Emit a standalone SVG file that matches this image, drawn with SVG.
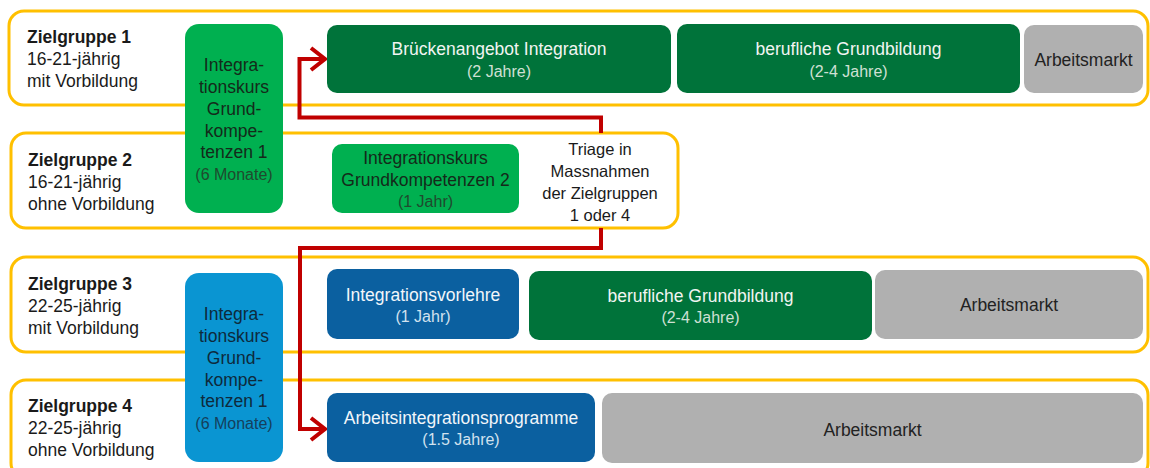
<svg xmlns="http://www.w3.org/2000/svg" width="1150" height="468" viewBox="0 0 1150 468">
<style>
text{font-family:"Liberation Sans",Arial,sans-serif;font-size:17.5px;}
.band{fill:#fff;stroke:#ffc000;stroke-width:3;}
.lbl{fill:#1a1a1a;}
.b{font-weight:bold;}
.mid{text-anchor:middle;}
.lg{fill:#00b050;}
.dg{fill:#00733a;}
.lb{fill:#0a95d2;}
.db{fill:#0b60a0;}
.gr{fill:#b0b0b0;}
.tw{fill:#f2f5f2;}
.tws{fill:#cfe0d4;font-size:16px;}
.tbw{fill:#f2f6fa;}
.tbws{fill:#d2e2ef;font-size:16px;}
.td{fill:#142a1a;}
.tds{fill:#1f4a2e;font-size:16px;}
.tdb{fill:#0e2a3c;}
.tdbs{fill:#15405c;font-size:16px;}
.tg{fill:#222;}
.tri{fill:#1a1a1a;font-size:16.5px;}
.con{fill:none;stroke:#c00000;stroke-width:4;}
</style>
<defs>
<marker id="arr" markerUnits="userSpaceOnUse" viewBox="0 0 20 26" refX="18" refY="13" markerWidth="20" markerHeight="26" orient="auto">
<path d="M4,2 L18,13 L4,24" fill="none" stroke="#c00000" stroke-width="4"/>
</marker>
</defs>

<g id="bands">
<rect id="band1" class="band" x="9" y="11" width="1139" height="94" rx="15"/>
<rect id="band2" class="band" x="11" y="133" width="667" height="95" rx="15"/>
<rect id="band3" class="band" x="11" y="257" width="1137" height="95" rx="15"/>
<rect id="band4" class="band" x="11" y="380" width="1137" height="98" rx="15"/>
</g>

<g id="zg1">
<text class="lbl b" x="27" y="43">Zielgruppe 1</text>
<text class="lbl" x="27" y="65">16-21-jährig</text>
<text class="lbl" x="27" y="87">mit Vorbildung</text>
</g>
<g id="zg2">
<text class="lbl b" x="28" y="166">Zielgruppe 2</text>
<text class="lbl" x="28" y="188">16-21-jährig</text>
<text class="lbl" x="28" y="210">ohne Vorbildung</text>
</g>
<g id="zg3">
<text class="lbl b" x="28" y="290">Zielgruppe 3</text>
<text class="lbl" x="28" y="312">22-25-jährig</text>
<text class="lbl" x="28" y="334">mit Vorbildung</text>
</g>
<g id="zg4">
<text class="lbl b" x="28" y="412">Zielgruppe 4</text>
<text class="lbl" x="28" y="434">22-25-jährig</text>
<text class="lbl" x="28" y="456">ohne Vorbildung</text>
</g>

<g id="ik1-green">
<rect class="lg" x="185" y="24" width="98" height="189" rx="14"/>
<text class="td mid" x="234" y="71">Integra-</text>
<text class="td mid" x="234" y="93">tionskurs</text>
<text class="td mid" x="234" y="115">Grund-</text>
<text class="td mid" x="234" y="137">kompe-</text>
<text class="td mid" x="234" y="158">tenzen 1</text>
<text class="tds mid" x="234" y="180">(6 Monate)</text>
</g>

<g id="ik1-blue">
<rect class="lb" x="185" y="273" width="98" height="189" rx="14"/>
<text class="tdb mid" x="234" y="320">Integra-</text>
<text class="tdb mid" x="234" y="342">tionskurs</text>
<text class="tdb mid" x="234" y="364">Grund-</text>
<text class="tdb mid" x="234" y="386">kompe-</text>
<text class="tdb mid" x="234" y="407">tenzen 1</text>
<text class="tdbs mid" x="234" y="429">(6 Monate)</text>
</g>

<g id="bruecke">
<rect class="dg" x="327" y="25" width="344" height="68" rx="10"/>
<text class="tw mid" x="499" y="55">Brückenangebot Integration</text>
<text class="tws mid" x="499" y="77">(2 Jahre)</text>
</g>
<g id="grundbildung1">
<rect class="dg" x="677" y="24" width="343" height="69" rx="10"/>
<text class="tw mid" x="848.5" y="55">berufliche Grundbildung</text>
<text class="tws mid" x="848.5" y="77">(2-4 Jahre)</text>
</g>
<g id="arbeitsmarkt1">
<rect class="gr" x="1024" y="25" width="119" height="68" rx="10"/>
<text class="tg mid" x="1083.5" y="66">Arbeitsmarkt</text>
</g>

<g id="ik2">
<rect class="lg" x="332" y="144" width="187" height="69" rx="10"/>
<text class="td mid" x="425.5" y="164">Integrationskurs</text>
<text class="td mid" x="425.5" y="186">Grundkompetenzen 2</text>
<text class="tds mid" x="425.5" y="207">(1 Jahr)</text>
</g>

<g id="triage">
<text class="tri mid" x="600" y="155">Triage in</text>
<text class="tri mid" x="600" y="177">Massnahmen</text>
<text class="tri mid" x="600" y="199">der Zielgruppen</text>
<text class="tri mid" x="600" y="221">1 oder 4</text>
</g>

<g id="vorlehre">
<rect class="db" x="327" y="269" width="192" height="70" rx="10"/>
<text class="tbw mid" x="423" y="301">Integrationsvorlehre</text>
<text class="tbws mid" x="423" y="322">(1 Jahr)</text>
</g>
<g id="grundbildung3">
<rect class="dg" x="529" y="271" width="343" height="69" rx="10"/>
<text class="tw mid" x="700.5" y="302">berufliche Grundbildung</text>
<text class="tws mid" x="700.5" y="323">(2-4 Jahre)</text>
</g>
<g id="arbeitsmarkt3">
<rect class="gr" x="875" y="270" width="268" height="69" rx="10"/>
<text class="tg mid" x="1009" y="311">Arbeitsmarkt</text>
</g>

<g id="aip">
<rect class="db" x="327" y="393" width="268" height="69" rx="10"/>
<text class="tbw mid" x="461" y="424">Arbeitsintegrationsprogramme</text>
<text class="tbws mid" x="461" y="445">(1.5 Jahre)</text>
</g>
<g id="arbeitsmarkt4">
<rect class="gr" x="602" y="393" width="541" height="70" rx="10"/>
<text class="tg mid" x="872.5" y="436">Arbeitsmarkt</text>
</g>

<g id="connectors">
<path class="con" d="M601,133 V117.5 H299.5 V59 H325" marker-end="url(#arr)"/>
<path class="con" d="M601,228 V248 H300 V429 H325" marker-end="url(#arr)"/>
</g>
</svg>
